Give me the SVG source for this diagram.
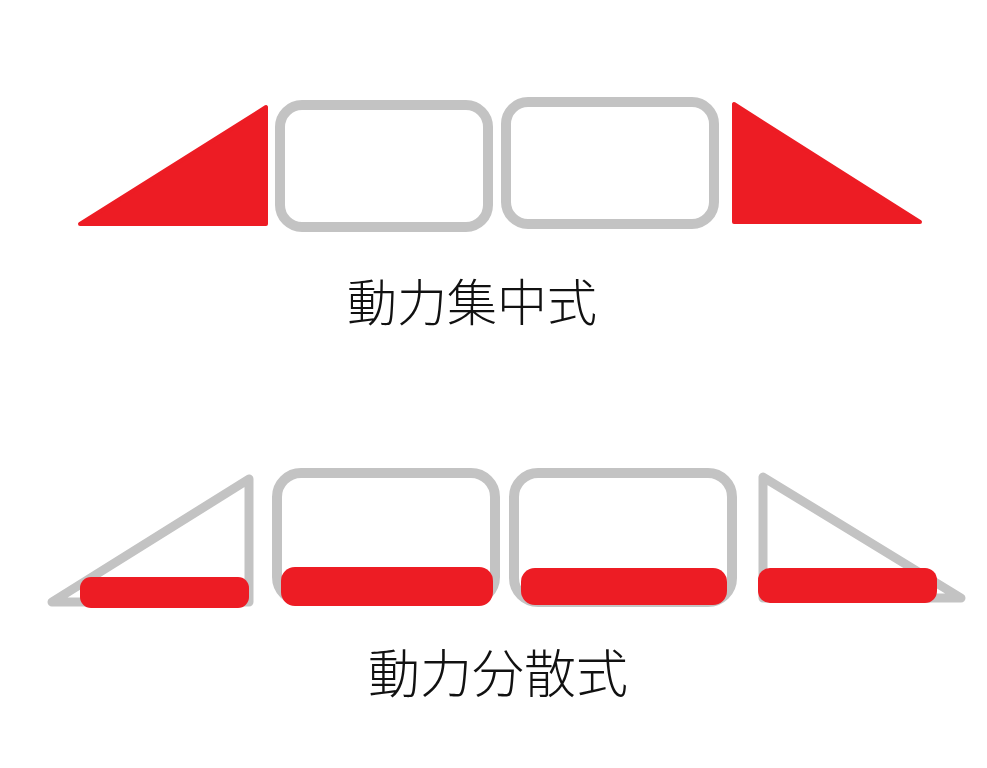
<svg xmlns="http://www.w3.org/2000/svg" width="987" height="768" viewBox="0 0 987 768">
<style>
.bg{fill:#ffffff}
.car{fill:none;stroke:#c3c3c3;stroke-width:10}
.nose{fill:none;stroke:#c3c3c3;stroke-width:9;stroke-linejoin:round}
.motor{fill:#ed1c24;stroke:#ed1c24;stroke-width:4;stroke-linejoin:round}
.bar{fill:#ed1c24}
.label{font-family:"Noto Sans CJK JP","Noto Sans CJK SC",sans-serif;font-weight:300;fill:#111111;text-anchor:middle}
</style>
<rect class="bg" x="0" y="0" width="987" height="768"/>
<g id="concentrated">
  <g id="c-nose-left"><polygon class="motor" points="266,107 266,224 80,224"/></g>
  <g id="c-car-1"><rect class="car" x="280" y="105" width="208" height="122" rx="22"/></g>
  <g id="c-car-2"><rect class="car" x="506" y="102" width="208" height="122" rx="22"/></g>
  <g id="c-nose-right"><polygon class="motor" points="734,104 734,222 920,222"/></g>
  <g id="c-label"><text class="label" x="472" y="321" font-size="50">動力集中式</text></g>
</g>
<g id="distributed">
  <g id="d-nose-left"><polygon class="nose" points="249,479 249,602 52,602"/><rect class="bar" x="80" y="577" width="169" height="31" rx="11"/></g>
  <g id="d-car-1"><rect class="car" x="277" y="473" width="218" height="128" rx="24"/><rect class="bar" x="281" y="567" width="212" height="39" rx="14"/></g>
  <g id="d-car-2"><rect class="car" x="514" y="473" width="218" height="129" rx="24"/><rect class="bar" x="521" y="568" width="206" height="37" rx="14"/></g>
  <g id="d-nose-right"><polygon class="nose" points="763,477 763,598 961,598"/><rect class="bar" x="758" y="568" width="179" height="35" rx="12"/></g>
  <g id="d-label"><text class="label" x="498" y="693" font-size="52">動力分散式</text></g>
</g>
<g id="connectors"></g>
</svg>
